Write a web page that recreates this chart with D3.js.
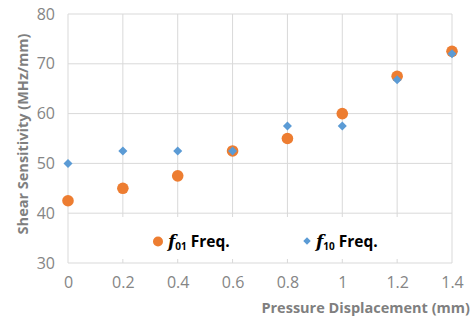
<!DOCTYPE html>
<html lang="en">
<head>
    <meta charset="UTF-8">
    <title>Shear Sensitivity</title>
    <script src="https://d3js.org/d3.v7.min.js"></script>
    <style>
        body { margin: 0; background: #fff; }
        svg { display: block; }
        text { font-family: "Open Sans", sans-serif; }
        .tick text { fill: #858585; font-size: 16px; }
        .axisTitle { fill: #7f7f7f; font-weight: bold; font-size: 14.5px; }
    </style>
</head>
<body>
    <script>
        const width = 473
        const height = 320

        // data
        const displacement = [0, 0.2, 0.4, 0.6, 0.8, 1.0, 1.2, 1.4]
        const f01 = [42.5, 45, 47.5, 52.5, 55, 60, 67.5, 72.5]
        const f10 = [50, 52.5, 52.5, 52.5, 57.5, 57.5, 66.8, 72]
        const xTicks = [0, 0.2, 0.4, 0.6, 0.8, 1, 1.2, 1.4]
        const yTicks = [30, 40, 50, 60, 70, 80]

        const orange = "#ED7D31"
        const blue = "#5B9BD5"
        const grid = "#D9D9D9"

        let svg = d3.select("body").append("svg")
            .attr("width", width)
            .attr("height", height)

        const x = d3.scaleLinear().domain([0, 1.4]).range([68, 452])
        const y = d3.scaleLinear().domain([30, 80]).range([263, 14])

        // gridlines
        let gGrid = svg.append("g")
        gGrid.selectAll(".hgrid")
            .data(yTicks)
            .enter()
            .append("line")
            .attr("x1", x(0)).attr("x2", x(1.4))
            .attr("y1", d => y(d)).attr("y2", d => y(d))
            .attr("stroke", grid)
        gGrid.selectAll(".vgrid")
            .data(xTicks)
            .enter()
            .append("line")
            .attr("x1", d => x(d)).attr("x2", d => x(d))
            .attr("y1", y(80)).attr("y2", y(30))
            .attr("stroke", grid)

        // axes (labels only)
        svg.append("g")
            .attr("transform", `translate(0,${y(30)})`)
            .call(d3.axisBottom(x).tickValues(xTicks).tickSize(0).tickPadding(14).tickFormat(d3.format("~g")))
            .call(g => g.select(".domain").remove())
        svg.append("g")
            .attr("transform", `translate(${x(0)},0)`)
            .call(d3.axisLeft(y).tickValues(yTicks).tickSize(0).tickPadding(13))
            .call(g => g.select(".domain").remove())

        // legend box sits inside the plot, over the gridlines
        svg.append("rect")
            .attr("x", 76).attr("y", 217)
            .attr("width", 368).attr("height", 42)
            .attr("fill", "#fff")

        // points
        const pts = displacement.map((d, i) => ({ x: d, a: f01[i], b: f10[i] }))
        svg.selectAll(".dotA")
            .data(pts)
            .enter()
            .append("circle")
            .attr("cx", d => x(d.x))
            .attr("cy", d => y(d.a))
            .attr("r", 5.8)
            .attr("fill", orange)
        svg.selectAll(".dotB")
            .data(pts)
            .enter()
            .append("path")
            .attr("d", d3.symbol().type(d3.symbolDiamond2).size(52))
            .attr("transform", d => `translate(${x(d.x)},${y(d.b)})`)
            .attr("fill", blue)

        // legend
        function legendLabel(lx, sub) {
            let t = svg.append("text")
                .attr("x", lx).attr("y", 247)
                .attr("font-weight", "bold")
                .attr("fill", "#000")
            t.append("tspan").text("f")
                .attr("font-family", "'DejaVu Serif', serif")
                .attr("font-style", "italic")
                .attr("font-size", 17)
            t.append("tspan").text(sub)
                .attr("font-size", 10)
                .attr("dy", 3)
            t.append("tspan").text(" Freq.")
                .attr("font-size", 15.5)
                .attr("dy", -3)
        }
        svg.append("circle").attr("cx", 158).attr("cy", 241.5).attr("r", 5).attr("fill", orange)
        legendLabel(168, "01")
        svg.append("path")
            .attr("d", d3.symbol().type(d3.symbolDiamond2).size(36))
            .attr("transform", "translate(307,241)")
            .attr("fill", blue)
        legendLabel(316, "10")

        // axis titles
        svg.append("text")
            .attr("class", "axisTitle")
            .attr("x", 470).attr("y", 313)
            .attr("text-anchor", "end")
            .text("Pressure Displacement (mm)")
        svg.append("text")
            .attr("class", "axisTitle")
            .attr("transform", "translate(28,134) rotate(-90)")
            .attr("text-anchor", "middle")
            .text("Shear Sensitivity (MHz/mm)")
    </script>
</body>
</html>
